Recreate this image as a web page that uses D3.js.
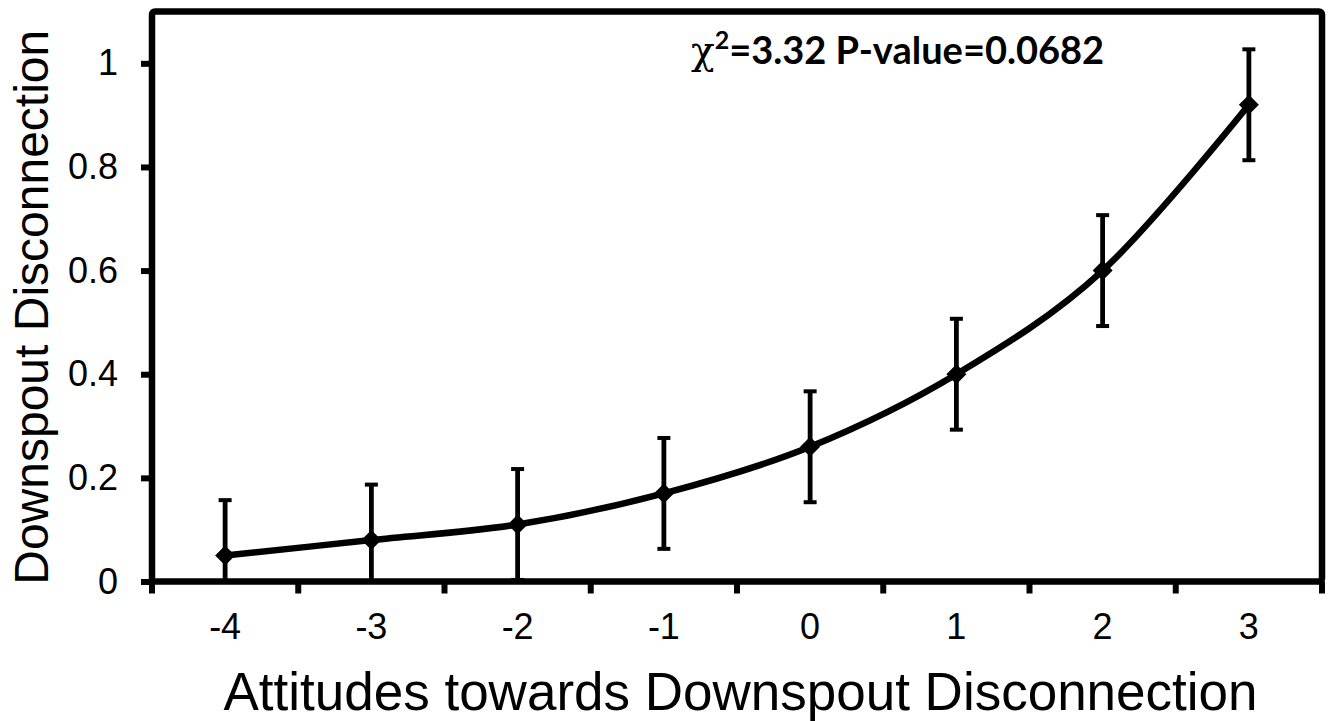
<!DOCTYPE html>
<html>
<head>
<meta charset="utf-8">
<script src="https://cdn.jsdelivr.net/npm/d3@7"></script>
<style>
  html, body { margin: 0; padding: 0; background: #fff; }
  svg { display: block; }
</style>
</head>
<body>
<svg id="chart" width="1329" height="721"></svg>
<script>
// data
const categories = ['-4', '-3', '-2', '-1', '0', '1', '2', '3'];
const values = [0.05, 0.08, 0.11, 0.17, 0.26, 0.40, 0.60, 0.92];
const errors = [0.107, 0.107, 0.107, 0.107, 0.107, 0.107, 0.107, 0.107];
const yTicks = [0, 0.2, 0.4, 0.6, 0.8, 1];
const yTitle = 'Downspout Disconnection';
const xTitle = 'Attitudes towards Downspout Disconnection';

const plotLeft = 152, plotRight = 1322, plotTop = 11.5, plotBottom = 581.5;

const svg = d3.select('#chart');

const x = d3.scaleBand().domain(categories).range([plotLeft, plotRight]).padding(0);
const y = d3.scaleLinear().domain([0, 1.1]).range([plotBottom, plotTop]);
const cx = c => x(c) + x.bandwidth() / 2;

// plot frame
svg.append('rect')
    .attr('x', plotLeft).attr('y', plotTop)
    .attr('width', plotRight - plotLeft).attr('height', plotBottom - plotTop)
    .attr('rx', 3)
    .attr('fill', 'none')
    .attr('stroke', '#000')
    .attr('stroke-width', 6.5);

// y axis
const yAxis = svg.append('g')
    .attr('transform', `translate(${plotLeft},0)`)
    .call(d3.axisLeft(y).tickValues(yTicks).tickSize(11).tickPadding(23)
        .tickFormat(d => String(+d.toFixed(1))));
yAxis.select('.domain').remove();
yAxis.selectAll('.tick line').attr('stroke', '#000').attr('stroke-width', 6);
yAxis.selectAll('.tick text')
    .attr('font-family', 'Liberation Sans, Arial, sans-serif')
    .attr('font-size', 36)
    .attr('fill', '#000');

// x axis: labels at category centres, ticks at category boundaries
const xAxis = svg.append('g')
    .attr('transform', `translate(0,${plotBottom})`)
    .call(d3.axisBottom(x).tickSize(0).tickPadding(0));
xAxis.select('.domain').remove();
xAxis.selectAll('.tick text')
    .attr('font-family', 'Liberation Sans, Arial, sans-serif')
    .attr('font-size', 36)
    .attr('fill', '#000')
    .attr('dy', null)
    .attr('y', 57);

const bounds = categories.map(c => x(c)).concat([plotRight]);
xAxis.selectAll('line.bound')
    .data(bounds)
    .join('line')
    .attr('class', 'bound')
    .attr('x1', d => d).attr('x2', d => d)
    .attr('y1', 0).attr('y2', 12)
    .attr('stroke', '#000')
    .attr('stroke-width', 6);

// error bars
const pts = categories.map((c, i) => ({ c, v: values[i], e: errors[i] }));
const eb = svg.append('g');
pts.forEach(p => {
    const hi = Math.min(p.v + p.e, 1.1);
    const lo = Math.max(p.v - p.e, 0);
    eb.append('line')
        .attr('x1', cx(p.c)).attr('x2', cx(p.c))
        .attr('y1', y(hi)).attr('y2', y(lo))
        .attr('stroke', '#000').attr('stroke-width', 4.8);
    [p.v + p.e, p.v - p.e].forEach(b => {
        if (b < 0) return;
        eb.append('line')
            .attr('x1', cx(p.c) - 6.5).attr('x2', cx(p.c) + 6.5)
            .attr('y1', y(b)).attr('y2', y(b))
            .attr('stroke', '#000').attr('stroke-width', 4);
    });
});

// smoothed line
const line = d3.line()
    .x(d => cx(d.c))
    .y(d => y(d.v))
    .curve(d3.curveCardinal.tension(0));
svg.append('path')
    .datum(pts)
    .attr('d', line)
    .attr('fill', 'none')
    .attr('stroke', '#000')
    .attr('stroke-width', 6.5)
    .attr('stroke-linejoin', 'round');

// diamond markers
const r = 10;
svg.append('g').selectAll('path')
    .data(pts)
    .join('path')
    .attr('d', d => {
        const px = cx(d.c), py = y(d.v);
        return `M${px},${py - r}L${px + r},${py}L${px},${py + r}L${px - r},${py}Z`;
    })
    .attr('fill', '#000');

// annotation
const ann = svg.append('text')
    .attr('x', 691).attr('y', 64)
    .attr('font-family', 'Lato, Open Sans, sans-serif')
    .attr('font-size', 38)
    .attr('font-weight', 700)
    .attr('fill', '#000');
ann.append('tspan')
    .attr('font-family', 'DejaVu Serif, Liberation Serif, serif')
    .attr('font-weight', 400)
    .attr('font-size', 39)
    .text('χ');
ann.append('tspan')
    .attr('font-size', 25)
    .attr('dy', -15)
    .text('2');
ann.append('tspan')
    .attr('dy', 15)
    .text('=3.32 P-value=0.0682');

// axis titles
svg.append('text')
    .attr('transform', `translate(48,${(plotBottom + 33) / 2}) rotate(-90)`)
    .attr('text-anchor', 'middle')
    .attr('font-family', 'Liberation Sans, Arial, sans-serif')
    .attr('font-size', 48)
    .attr('fill', '#000')
    .text(yTitle);

svg.append('text')
    .attr('x', (223 + 1258) / 2)
    .attr('y', 710)
    .attr('text-anchor', 'middle')
    .attr('font-family', 'Liberation Sans, Arial, sans-serif')
    .attr('font-size', 53)
    .attr('fill', '#000')
    .text(xTitle);
</script>
</body>
</html>
